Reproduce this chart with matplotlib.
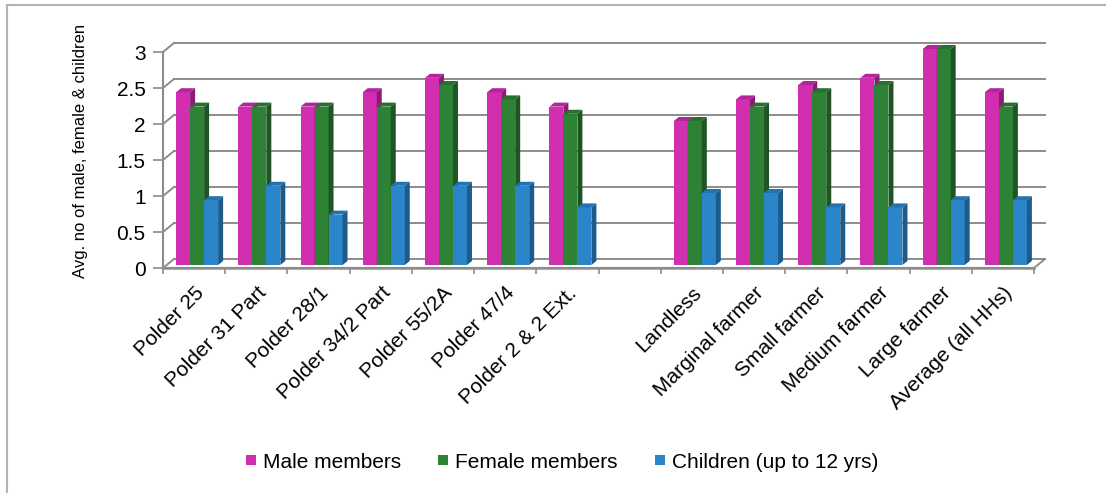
import numpy as np
import matplotlib
matplotlib.use("Agg")
import matplotlib.pyplot as plt
from matplotlib.patches import Polygon
from matplotlib.lines import Line2D

plt.rcParams["font.family"] = ["Liberation Sans", "DejaVu Sans"]

# ---- data -------------------------------------------------------------
categories = ["Polder 25", "Polder 31 Part", "Polder 28/1", "Polder 34/2 Part",
              "Polder 55/2A", "Polder 47/4", "Polder 2 & 2 Ext.", "",
              "Landless", "Marginal farmer", "Small farmer", "Medium farmer",
              "Large farmer", "Average (all HHs)"]
male = [2.4, 2.2, 2.2, 2.4, 2.6, 2.4, 2.2, None, 2.0, 2.3, 2.5, 2.6, 3.0, 2.4]
female = [2.2, 2.2, 2.2, 2.2, 2.5, 2.3, 2.1, None, 2.0, 2.2, 2.4, 2.5, 3.0, 2.2]
children = [0.9, 1.1, 0.7, 1.1, 1.1, 1.1, 0.8, None, 1.0, 1.0, 0.8, 0.8, 0.9, 0.9]
series_names = ["Male members", "Female members", "Children (up to 12 yrs)"]
y_ticks = [0, 0.5, 1, 1.5, 2, 2.5, 3]
y_label = "Avg. no of male, female & children"

# front, top and side face colours for each series
front_cols = ["#D22FB0", "#2E8236", "#2A86C8"]
top_cols = ["#B5249A", "#287030", "#2472B0"]
side_cols = ["#8E1A76", "#1E5524", "#1C5B8C"]
grid_col = "#8C8C8C"
fs = 15

W, H = 1106, 493
fig = plt.figure(figsize=(W / 100, H / 100), dpi=100)
ax = fig.add_axes([163 / W, 225 / H, 871 / W, 216 / H])
n = len(categories)
ax.set_xlim(0, n)
ax.set_ylim(0, 3)

ppx = ax.bbox.width / n      # pixels per category
ppy = ax.bbox.height / 3.0   # pixels per unit

# back wall / floor depth offset and bar depth
bdx, bdy = 11 / ppx, 9 / ppy
fdx, fdy = 5 / ppx, 4 / ppy
shift_x, shift_y = 3 / ppx, 3 / ppy

# back-wall gridlines and side-wall diagonals
for v in y_ticks:
    ax.add_line(Line2D([bdx, n + bdx], [v + bdy, v + bdy], color=grid_col,
                       lw=1.4, clip_on=False, zorder=1))
    ax.add_line(Line2D([0, bdx], [v, v + bdy], color=grid_col,
                       lw=1.4, clip_on=False, zorder=1))
ax.add_line(Line2D([n, n + bdx], [0, bdy], color=grid_col, lw=1.4,
                   clip_on=False, zorder=1))
ax.add_line(Line2D([0, n], [0.2 / ppy, 0.2 / ppy], color="#B0B0B0", lw=2.2,
                   clip_on=False, zorder=1.5))

# 3-D looking bars
bw = 14 / ppx
series = [male, female, children]
for k, vals in enumerate(series):
    for i, v in enumerate(vals):
        if v is None:
            continue
        x0 = i + 0.5 + (k - 1.5) * bw + shift_x
        y0 = shift_y
        z = 3 + k * 0.3
        ax.bar(x0, v, width=bw, bottom=y0, align="edge",
               color=front_cols[k], lw=0, zorder=z, clip_on=False)
        top = y0 + v
        x1 = x0 + bw
        ax.add_patch(Polygon([(x0, top), (x1, top), (x1 + fdx, top + fdy),
                              (x0 + fdx, top + fdy)], closed=True,
                             facecolor=top_cols[k], lw=0, zorder=z + 0.1,
                             clip_on=False))
        ax.add_patch(Polygon([(x1, y0), (x1 + fdx, y0 + fdy),
                              (x1 + fdx, top + fdy), (x1, top)], closed=True,
                             facecolor=side_cols[k], lw=0, zorder=z + 0.1,
                             clip_on=False))

# axes styling
for s in ("top", "right"):
    ax.spines[s].set_visible(False)
for s in ("left", "bottom"):
    ax.spines[s].set_color(grid_col)
    ax.spines[s].set_linewidth(1.5)
    ax.spines[s].set_zorder(2)

ax.set_yticks(y_ticks)
ax.set_yticklabels([f"{t:g}" for t in y_ticks])
ax.tick_params(axis="y", direction="out", length=7.5, width=1.2,
               color=grid_col, pad=5, labelsize=fs)

ax.set_xticks(np.arange(n) + 0.5)
ax.set_xticklabels(categories)
ax.set_xticks(np.arange(n + 1), minor=True)
ax.tick_params(axis="x", which="major", length=0, pad=11, labelsize=fs)
ax.tick_params(axis="x", which="minor", length=4.5, width=1.2,
               color=grid_col, direction="out")
for lbl in ax.get_xticklabels():
    lbl.set_rotation(45)
    lbl.set_ha("right")
    lbl.set_va("top")
    lbl.set_rotation_mode("anchor")

fig.text(81 / W, 1 - 151 / H, y_label, rotation=90, ha="center",
         va="center", fontsize=12)

# legend
handles = [Line2D([], [], marker="s", ls="none", markersize=6.5,
                  markerfacecolor=c, markeredgewidth=0) for c in front_cols]
fig.legend(handles, series_names, loc="center", ncol=3, frameon=False,
           bbox_to_anchor=(562 / W, 1 - 462 / H), fontsize=fs,
           handlelength=0.5, handletextpad=0.3, columnspacing=1.8)

# chart-area border (left and top edges)
fig.add_artist(Line2D([7 / W, 7 / W], [0, 1 - 5 / H], color="#B3B3B3",
                      lw=1.5, transform=fig.transFigure))
fig.add_artist(Line2D([7 / W, 1], [1 - 5 / H, 1 - 5 / H], color="#B3B3B3",
                      lw=1.5, transform=fig.transFigure))

fig.savefig("out.png", dpi=100)
